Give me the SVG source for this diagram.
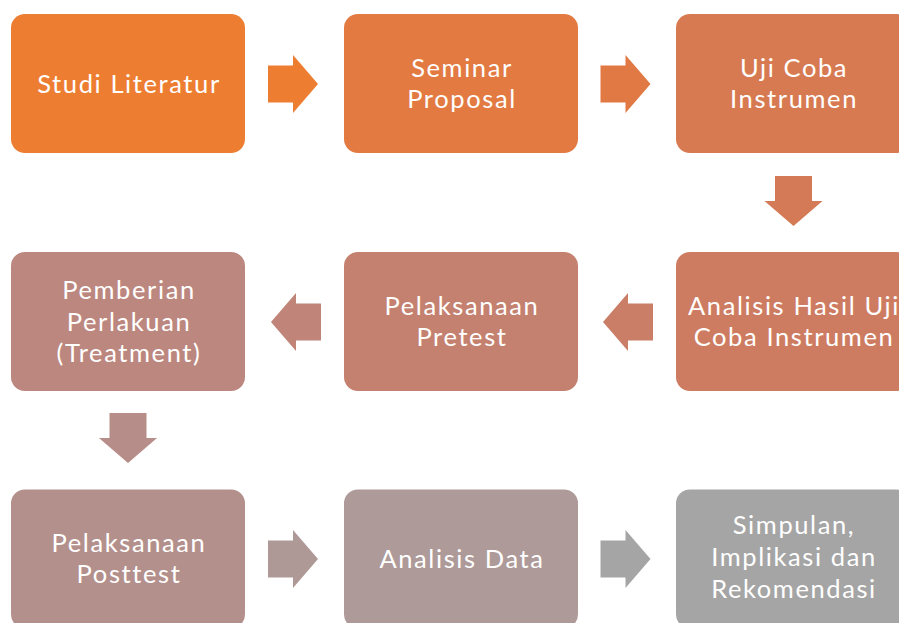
<svg xmlns="http://www.w3.org/2000/svg" xmlns:xlink="http://www.w3.org/1999/xlink" width="899" height="623" viewBox="0 0 899 623">
  <defs>
    <style>
      .box { rx: 14px; ry: 14px; }
      .lbl { font-family: "Lato", "Open Sans", "Liberation Sans", sans-serif; font-size: 25.5px; letter-spacing: 1.6px; fill: #ffffff; text-anchor: middle; }
    </style>
    <!-- block arrow pointing right, tail at origin, 50 long -->
    <path id="blockArrow" d="M0,-18.5 L25,-18.5 L25,-29 L50,0 L25,29 L25,18.5 L0,18.5 Z"/>
  </defs>
  <rect width="899" height="623" fill="#ffffff"/>

  <!-- process steps -->
  <g id="step-studi-literatur">
    <rect class="box" x="11" y="14" width="234" height="139" fill="#ED7D31"/>
    <text class="lbl" x="129" y="93">Studi Literatur</text>
  </g>
  <g id="step-seminar-proposal">
    <rect class="box" x="344" y="14" width="234" height="139" fill="#E27A41"/>
    <text class="lbl" x="462" y="76.5">Seminar</text>
    <text class="lbl" x="462" y="107.5">Proposal</text>
  </g>
  <g id="step-uji-coba">
    <rect class="box" x="676" y="14" width="234" height="139" fill="#D87A51"/>
    <text class="lbl" x="794" y="76.5">Uji Coba</text>
    <text class="lbl" x="794" y="107.5">Instrumen</text>
  </g>
  <g id="step-analisis-uji-coba">
    <rect class="box" x="676" y="252" width="234" height="139" fill="#CE7C61"/>
    <text class="lbl" x="794" y="314.5">Analisis Hasil Uji</text>
    <text class="lbl" x="794" y="345.5">Coba Instrumen</text>
  </g>
  <g id="step-pretest">
    <rect class="box" x="344" y="252" width="234" height="139" fill="#C58170"/>
    <text class="lbl" x="462" y="314.5">Pelaksanaan</text>
    <text class="lbl" x="462" y="345.5">Pretest</text>
  </g>
  <g id="step-treatment">
    <rect class="box" x="11" y="252" width="234" height="139" fill="#BC877E"/>
    <text class="lbl" x="129" y="299">Pemberian</text>
    <text class="lbl" x="129" y="330.5">Perlakuan</text>
    <text class="lbl" x="129" y="362">(Treatment)</text>
  </g>
  <g id="step-posttest">
    <rect class="box" x="11" y="489.5" width="234" height="139" fill="#B4908C"/>
    <text class="lbl" x="129" y="552">Pelaksanaan</text>
    <text class="lbl" x="129" y="583">Posttest</text>
  </g>
  <g id="step-analisis-data">
    <rect class="box" x="344" y="489.5" width="234" height="139" fill="#AD9A99"/>
    <text class="lbl" x="462" y="567.5">Analisis Data</text>
  </g>
  <g id="step-simpulan">
    <rect class="box" x="676" y="489.5" width="234" height="139" fill="#A5A5A5"/>
    <text class="lbl" x="794" y="534">Simpulan,</text>
    <text class="lbl" x="794" y="566">Implikasi dan</text>
    <text class="lbl" x="794" y="598">Rekomendasi</text>
  </g>

  <!-- connectors -->
  <g id="connectors">
    <use xlink:href="#blockArrow" transform="translate(268,84)" fill="#ED7D31"/>
    <use xlink:href="#blockArrow" transform="translate(600.5,84)" fill="#E17944"/>
    <use xlink:href="#blockArrow" transform="translate(793.5,176) rotate(90)" fill="#D57A56"/>
    <use xlink:href="#blockArrow" transform="translate(653,322) rotate(180)" fill="#CA7E68"/>
    <use xlink:href="#blockArrow" transform="translate(321,322) rotate(180)" fill="#C08478"/>
    <use xlink:href="#blockArrow" transform="translate(128,413) rotate(90)" fill="#B68D88"/>
    <use xlink:href="#blockArrow" transform="translate(268,559)" fill="#AE9997"/>
    <use xlink:href="#blockArrow" transform="translate(600.5,559)" fill="#A5A5A5"/>
  </g>
</svg>
